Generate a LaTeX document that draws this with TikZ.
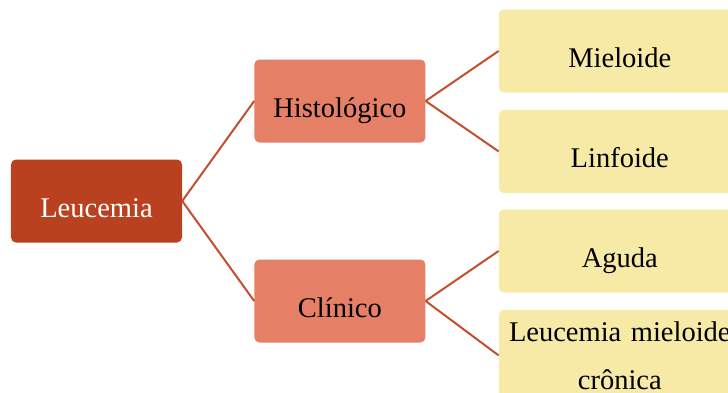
\documentclass[tikz,border=0pt]{standalone}
\usepackage{fontspec}
\setmainfont{Liberation Serif}
\usepackage{tikz}
\usetikzlibrary{positioning}
\definecolor{rootred}{RGB}{186,65,32}
\definecolor{branchsalmon}{RGB}{229,127,101}
\definecolor{leafyellow}{RGB}{247,234,166}
\definecolor{linkred}{RGB}{196,78,48}

\begin{document}
\begin{tikzpicture}[
        node distance=17pt,
        font=\fontsize{28.5pt}{48pt}\selectfont,
        oneline/.style={text height=33pt, text depth=0pt},
        root/.style={rectangle, rounded corners=5pt, fill=rootred, text=white, minimum width=171pt, minimum height=83pt, oneline},
        branch/.style={rectangle, rounded corners=5pt, fill=branchsalmon, minimum width=171pt, minimum height=83pt, oneline},
        leaf/.style={rectangle, rounded corners=5pt, fill=leafyellow, minimum width=242pt, minimum height=83pt, oneline},
        link/.style={draw=linkred, line width=2pt}
    ]
        \path[use as bounding box] (-96.5pt,-191pt) rectangle (631.5pt,201pt);
        \clip (-96.5pt,-191pt) rectangle (631.5pt,201pt);

        \node[root] (leuc) {Leucemia};

        \node[branch, right=72pt of leuc, yshift=100pt] (hist) {Histológico};
        \node[branch, right=72pt of leuc, yshift=-100pt] (clin) {Clínico};

        \node[leaf, right=73pt of hist, yshift=50pt] (miel) {Mieloide};
        \node[leaf, below=of miel] (linf) {Linfoide};
        \node[leaf, right=73pt of clin, yshift=50pt] (agud) {Aguda};
        \node[leaf, below=of agud, text height={}, text depth={}, text width=230pt, align=center, inner xsep=6pt, inner ysep=11.5pt] (lmc) {Leucemia mieloide\\crônica};

        \foreach \src/\dst in {leuc/hist,leuc/clin,hist/miel,hist/linf,clin/agud,clin/lmc} {
            \draw[link] (\src.east) -- (\dst.west);
        }
    \end{tikzpicture}
\end{document}
